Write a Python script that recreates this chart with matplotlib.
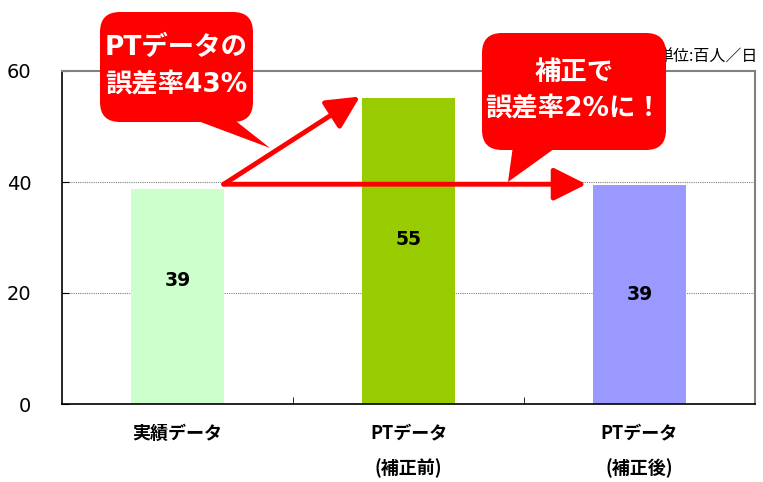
import matplotlib
matplotlib.use('Agg')
import matplotlib.pyplot as plt
from matplotlib.patches import FancyBboxPatch, Polygon

plt.rcParams['font.family'] = ['Noto Sans CJK JP', 'DejaVu Sans']
LATIN_FIRST = ['DejaVu Sans', 'Noto Sans CJK JP']

# data
categories = ['実績データ', 'PTデータ\n(補正前)', 'PTデータ\n(補正後)']
values = [38.7, 55.1, 39.4]
value_labels = ['39', '55', '39']
bar_colors = ['#CCFFCC', '#99CC00', '#9999FF']
yticks = [0, 20, 40, 60]

W, H = 763, 482
fig = plt.figure(figsize=(W / 100, H / 100), dpi=100)
ax = fig.add_axes([62 / W, 1 - 404 / H, 693 / W, 333 / H])

x = list(range(len(categories)))
ax.bar(x, values, width=0.4, color=bar_colors, zorder=2)

# value labels inside bars
label_heights = [22.3, 29.7, 19.8]
for xi, lab, yl in zip(x, value_labels, label_heights):
    ax.text(xi, yl, lab, ha='center', va='center', fontsize=13.5, fontweight='bold',
            family=LATIN_FIRST, zorder=3)

ax.set_xlim(-0.5, 2.5)
ax.set_ylim(0, 60)
ax.set_yticks(yticks)
ax.set_yticklabels([str(t) for t in yticks], fontsize=14, family=LATIN_FIRST)
ax.tick_params(axis='y', direction='in', length=5, pad=22)

ax.set_xticks(x)
ax.set_xticklabels(categories, fontsize=13, fontweight='bold', linespacing=2.0)
ax.tick_params(axis='x', length=0, pad=14)
ax.set_xticks([0.5, 1.5], minor=True)
ax.tick_params(axis='x', which='minor', direction='in', length=5)

for yv in [20, 40]:
    ax.axhline(yv, color='#808080', lw=0.8, ls=(0, (1, 1)), zorder=1)

for s in ['top', 'right']:
    ax.spines[s].set_color('#808080')
    ax.spines[s].set_linewidth(1.5)
for s in ['left', 'bottom']:
    ax.spines[s].set_color('black')
    ax.spines[s].set_linewidth(1.2)

# arrows
arrow_kw = dict(arrowstyle='-|>,head_length=1.0,head_width=0.5', lw=3.5,
                color='#FF0000', shrinkA=0, shrinkB=0, mutation_scale=20)
ax.annotate('', xy=(0.79, 55.4), xytext=(0.2, 39.6), arrowprops=arrow_kw, zorder=4)
ax.annotate('', xy=(1.77, 39.6), xytext=(0.2, 39.6), arrowprops=arrow_kw, zorder=4)

# unit text
fig.text(758 / W, 1 - 57 / H, '単位:百人／日', ha='right', va='center', fontsize=11.5, zorder=5)


def px(xp, yp):
    return (xp / 100, (H - yp) / 100)


def callout(x0, y0, x1, y1, tail, lines, text_y):
    box = FancyBboxPatch(px(x0, y1), (x1 - x0) / 100, (y1 - y0) / 100,
                         boxstyle='round,pad=0,rounding_size=0.2',
                         transform=fig.dpi_scale_trans, facecolor='#FF0000',
                         edgecolor='none', zorder=10)
    fig.add_artist(box)
    tri = Polygon([px(*p) for p in tail], closed=True, transform=fig.dpi_scale_trans,
                  facecolor='#FF0000', edgecolor='none', zorder=10)
    fig.add_artist(tri)
    cx = (x0 + x1) / 2
    for line, ty in zip(lines, text_y):
        fig.text(cx / W, 1 - ty / H, line, ha='center', va='center', color='white',
                 fontsize=19, fontweight='bold', family=LATIN_FIRST, zorder=11)


callout(100, 12, 253, 122, [(190, 118), (232, 118), (270, 148)],
        ['PTデータの', '誤差率43%'], [48, 84])
callout(482, 33, 666, 150, [(513, 146), (558, 146), (508, 182)],
        ['補正で', '誤差率2%に！'], [73, 108])

plt.savefig('out.png', dpi=100)
